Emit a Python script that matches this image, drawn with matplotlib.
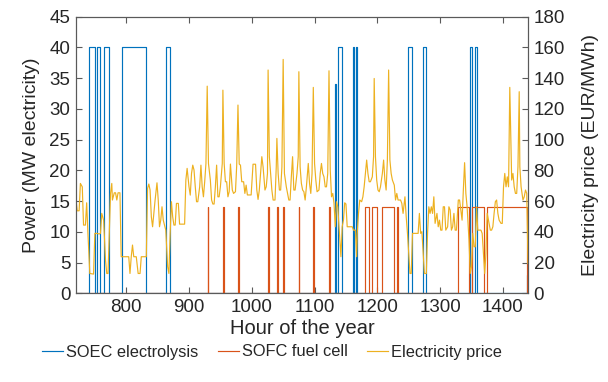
import matplotlib
matplotlib.use("Agg")
import matplotlib.pyplot as plt

plt.rcParams['font.family'] = ['Liberation Sans', 'DejaVu Sans']

# SOEC electrolysis, MW (step transitions: value holds from hour until next hour)
soec_hours = [720, 740, 750, 753, 759, 765, 773, 793, 832, 863, 870,
              1133, 1134, 1138, 1144, 1161, 1163, 1166, 1168, 1249, 1255,
              1272, 1278, 1348, 1350, 1356, 1358, 1439, 1440]
soec_mw = [0, 40, 0, 40, 0, 40, 0, 40, 0, 40, 0,
           34, 0, 40, 0, 40, 0, 40, 0, 40, 0,
           40, 0, 40, 0, 40, 0, 3, 3]

# SOFC fuel cell, MW
sofc_hours = [720, 930, 931, 954, 955, 978, 979, 1026, 1027, 1040, 1041,
              1049, 1051, 1075, 1076, 1098, 1099, 1123, 1124, 1181, 1187,
              1191, 1199, 1207, 1226, 1232, 1233, 1328, 1346, 1351, 1370,
              1374, 1438, 1440]
sofc_mw = [0, 14.1, 0, 14.1, 0, 14.1, 0, 14.1, 0, 14.1, 0,
           14.1, 0, 14.1, 0, 14.1, 0, 14.1, 0, 14.1, 0,
           14.1, 0, 14.1, 0, 14.1, 0, 14.1, 0, 14.1, 0,
           14.1, 0, 0]

# Electricity price, EUR/MWh
price_hours = [
    720, 722, 725, 727, 730, 732, 735, 737, 739, 742, 748, 750, 753, 757, 759,
    761, 764, 767, 769, 771, 773, 775, 777, 778, 781, 783, 785, 787, 790, 792,
    795, 801, 804, 806, 808, 810, 812, 816, 819, 822, 824, 832, 834, 836, 838,
    840, 842, 844, 846, 849, 851, 853, 855, 857, 859, 861, 863, 866, 868, 870,
    872, 874, 876, 878, 880, 883, 885, 887, 893, 895, 897, 900, 902, 904, 906,
    908, 910, 912, 914, 917, 919, 921, 923, 925, 927, 929, 931, 934, 936, 938,
    940, 942, 944, 946, 948, 950, 953, 954, 956, 958, 960, 962, 964, 966, 969,
    971, 974, 976, 978, 980, 982, 984, 987, 989, 991, 993, 999, 1002, 1006, 1008,
    1010, 1012, 1014, 1016, 1018, 1021, 1023, 1025, 1026, 1028, 1030, 1032, 1034, 1037, 1039,
    1040, 1042, 1044, 1046, 1048, 1050, 1052, 1055, 1057, 1059, 1061, 1063, 1065, 1067, 1069,
    1072, 1074, 1075, 1077, 1079, 1081, 1083, 1085, 1087, 1090, 1092, 1094, 1096, 1098, 1100,
    1102, 1104, 1107, 1109, 1111, 1113, 1115, 1117, 1119, 1121, 1123, 1125, 1127, 1129, 1131,
    1133, 1135, 1137, 1140, 1142, 1144, 1146, 1148, 1150, 1152, 1154, 1160, 1162, 1165, 1167,
    1168, 1170, 1172, 1175, 1177, 1179, 1181, 1183, 1185, 1187, 1189, 1192, 1194, 1195, 1197,
    1199, 1201, 1203, 1205, 1208, 1210, 1212, 1214, 1216, 1218, 1220, 1222, 1224, 1227, 1229,
    1231, 1233, 1235, 1237, 1239, 1241, 1244, 1246, 1248, 1250, 1252, 1254, 1256, 1261, 1265,
    1267, 1269, 1271, 1273, 1275, 1278, 1280, 1282, 1284, 1286, 1288, 1290, 1292, 1295, 1297,
    1299, 1301, 1303, 1305, 1307, 1309, 1312, 1314, 1316, 1318, 1320, 1322, 1324, 1326, 1329,
    1331, 1333, 1335, 1337, 1339, 1341, 1343, 1346, 1348, 1350, 1352, 1354, 1356, 1358, 1360,
    1363, 1365, 1367, 1369, 1371, 1373, 1375, 1377, 1380, 1382, 1384, 1386, 1388, 1390, 1392,
    1394, 1397, 1399, 1401, 1403, 1405, 1407, 1409, 1411, 1414, 1416, 1418, 1420, 1422, 1424,
    1426, 1427, 1429, 1432, 1434, 1436, 1438, 1439, 1440]
price_eur = [
    60.7, 53.7, 53.7, 71.5, 69.3, 44.4, 44.4, 58.9, 39.0, 12.9, 12.5, 39.0, 39.0, 38.6, 39.0,
    52.0, 47.6, 21.6, 12.9, 12.9, 39.0, 65.0, 71.5, 60.7, 65.4, 65.4, 60.7, 65.4, 65.4, 23.8,
    23.8, 23.8, 23.8, 12.9, 23.8, 31.4, 23.8, 23.8, 12.9, 12.9, 23.8, 23.8, 68.3, 71.1, 67.2,
    49.8, 43.3, 52.0, 60.7, 71.9, 60.7, 43.3, 47.6, 56.3, 47.6, 44.4, 41.1, 17.3, 12.9, 39.0,
    59.6, 49.8, 44.4, 44.4, 58.5, 58.5, 45.0, 45.0, 45.0, 73.7, 81.3, 69.3, 63.9, 78.0, 83.4,
    80.2, 69.3, 59.6, 59.6, 69.3, 83.4, 69.3, 62.8, 72.6, 84.5, 134.8, 84.5, 73.7, 60.7, 58.1,
    58.1, 69.3, 83.4, 62.8, 62.8, 69.3, 84.5, 132.2, 84.5, 72.6, 72.6, 62.8, 66.1, 84.1, 67.2,
    65.0, 66.1, 83.4, 122.5, 84.1, 83.4, 72.6, 72.6, 65.0, 70.4, 64.0, 64.0, 84.0, 84.0, 67.2,
    61.1, 67.2, 78.0, 88.9, 82.3, 67.2, 69.3, 78.0, 145.3, 88.9, 78.0, 67.2, 60.7, 60.7, 82.3,
    100.8, 78.0, 67.2, 67.2, 82.3, 152.2, 78.0, 69.3, 65.0, 60.7, 60.7, 75.8, 88.9, 67.2, 67.2,
    78.0, 88.9, 144.2, 82.3, 71.5, 67.2, 66.1, 60.7, 69.3, 84.5, 71.5, 65.0, 78.0, 134.0, 84.5,
    73.7, 66.1, 67.2, 78.0, 84.5, 78.0, 75.8, 69.3, 69.3, 78.0, 144.8, 80.2, 62.8, 65.0, 58.5,
    43.3, 59.6, 56.3, 36.8, 23.8, 43.3, 47.6, 58.9, 58.1, 43.3, 43.3, 43.3, 41.1, 41.1, 23.8,
    39.0, 52.0, 60.7, 59.6, 62.8, 69.3, 78.0, 86.7, 78.0, 72.6, 72.6, 75.8, 88.9, 139.8, 88.9,
    73.7, 67.2, 66.1, 69.3, 78.0, 86.7, 73.7, 67.2, 86.7, 145.3, 86.7, 78.0, 73.7, 70.4, 60.7,
    65.0, 60.7, 60.7, 60.7, 58.5, 52.0, 62.8, 49.8, 39.0, 26.0, 12.9, 12.9, 39.0, 39.0, 39.0,
    52.0, 39.0, 40.1, 26.0, 12.9, 12.9, 39.0, 56.3, 52.0, 56.3, 52.0, 62.8, 45.5, 52.0, 43.3,
    47.6, 41.1, 41.1, 56.3, 56.3, 41.1, 43.3, 56.3, 54.2, 41.1, 43.3, 52.0, 41.1, 41.1, 60.7,
    60.7, 54.2, 47.6, 67.2, 85.0, 65.0, 56.3, 34.6, 12.9, 17.3, 39.0, 30.3, 30.3, 56.3, 41.1,
    41.1, 41.1, 39.0, 26.0, 12.9, 26.0, 52.0, 47.6, 41.1, 41.1, 43.3, 52.0, 59.6, 60.7, 52.0,
    47.6, 45.5, 45.5, 69.3, 78.0, 69.3, 75.8, 69.3, 134.0, 73.7, 78.0, 69.3, 65.0, 65.0, 82.3,
    131.2, 82.3, 69.3, 60.7, 62.8, 67.2, 65.0, 41.0, 19.4]

blue = '#0072BD'
red = '#D95319'
orange = '#EDB120'
text_col = '#262626'
axis_col = '#5a5a5a'

fig = plt.figure(figsize=(6.08, 3.82), dpi=100)
ax = fig.add_axes([76/608, 1 - 293.3/382, 452/608, 276.6/382])
ax2 = ax.twinx()

l1, = ax.plot(soec_hours, soec_mw, color=blue, lw=0.85, drawstyle='steps-post')
l2, = ax.plot(sofc_hours, sofc_mw, color=red, lw=0.85, drawstyle='steps-post')
l3, = ax2.plot(price_hours, price_eur, color=orange, lw=0.85)

ax.set_xlim(720, 1440)
ax.set_ylim(0, 45)
ax2.set_ylim(0, 180)
ax.set_xticks(range(800, 1401, 100))
ax.set_yticks(range(0, 46, 5))
ax2.set_yticks(range(0, 181, 20))

ax.tick_params(direction='in', top=True, right=False, length=4, width=0.8,
               labelsize=13.5, colors=axis_col, labelcolor=text_col, pad=4)
ax2.tick_params(direction='in', length=4, width=0.8, labelsize=13.5,
                colors=axis_col, labelcolor=text_col, pad=4)
for a in (ax, ax2):
    for s in a.spines.values():
        s.set_color(axis_col)
        s.set_linewidth(0.8)

ax.set_xlabel('Hour of the year', fontsize=14.5, color=text_col, labelpad=2)
ax.set_ylabel('Power (MW electricity)', fontsize=14, color=text_col, labelpad=7)
ax2.set_ylabel('Electricity price (EUR/MWh)', fontsize=14, color=text_col, labelpad=12)

fig.legend([l1, l2, l3], ['SOEC electrolysis', 'SOFC fuel cell', 'Electricity price'],
           loc='center', bbox_to_anchor=(272/608, 1 - 352/382), ncol=3, frameon=False,
           fontsize=11.8, handlelength=1.3, handletextpad=0.15, columnspacing=1.2,
           labelcolor=text_col)

fig.savefig('out.png', dpi=100)
